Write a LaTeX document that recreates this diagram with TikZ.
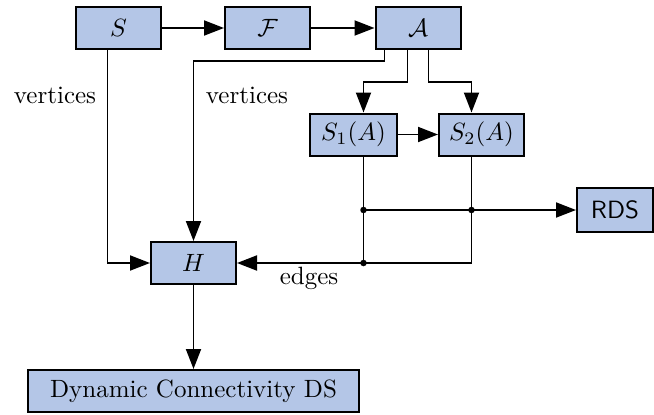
\documentclass[tikz,border=0pt]{standalone}
\usetikzlibrary{arrows.meta,calc}
\definecolor{boxfill}{RGB}{180,198,231}
\begin{document}
\begin{tikzpicture}[x=0.4pt,y=-0.4pt,
  box/.style={draw=black,fill=boxfill,line width=0.8pt,minimum width=34pt,minimum height=16.8pt,inner sep=0pt},
  conn/.style={line width=0.75pt,-{Triangle[length=8pt,width=6pt]}},
  plain/.style={line width=0.75pt},
  junction/.style={circle,fill=black,inner sep=0pt,minimum size=2.6pt}]
\useasboundingbox (0,0) rectangle (654,414);
\node[box] (S) at (118.5,28) {$S$};
\node[box] (F) at (267.5,28) {$\mathcal{F}$};
\node[box] (A) at (418,28) {$\mathcal{A}$};
\node[box,minimum width=34.8pt] (S1) at (353.5,134.5) {$S_1(A)$};
\node[box] (S2) at (481.5,134.5) {$S_2(A)$};
\node[box,minimum width=30.4pt,minimum height=17.6pt] (RDS) at (615,210) {\sffamily RDS};
\node[box] (H) at (193.5,263) {$H$};
\node[box,minimum width=132pt] (DC) at (193.5,391) {Dynamic Connectivity DS};
\node (v1) at (55,95) {vertices};
\node (v2) at (247,95) {vertices};
\node (ed) at (309,278) {edges};
\coordinate (j1) at (363.5,210);
\coordinate (j2) at (471.5,210);
\coordinate (j3) at (363.5,263);
\coordinate (j4) at (471.5,263);
\draw[conn] (S) -- (F);
\draw[conn] (F) -- (A);
\draw[conn] ($(S.south)+(-11,0)$) |- (H.west);
\draw[conn] ($(A.south west)+(10,0)$) -- ++(0,11) -| (H.north);
\draw[conn] ($(A.south)+(-10.5,0)$) -- ++(0,32) -| (S1.north -| j1);
\draw[conn] ($(A.south)+(10.5,0)$) -- ++(0,32) -| (S2.north -| j2);
\draw[conn] (S1) -- (S2);
\draw[plain] (S1.south -| j1) -- (j3);
\draw[plain] (S2.south -| j2) -- (j4) -- (j3);
\draw[conn] (j3) -- (H.east);
\draw[conn] (j1) -- (RDS.west);
\draw[conn] (H) -- (DC);
\node[junction] at (j1) {};
\node[junction] at (j2) {};
\node[junction] at (j3) {};
\end{tikzpicture}
\end{document}
